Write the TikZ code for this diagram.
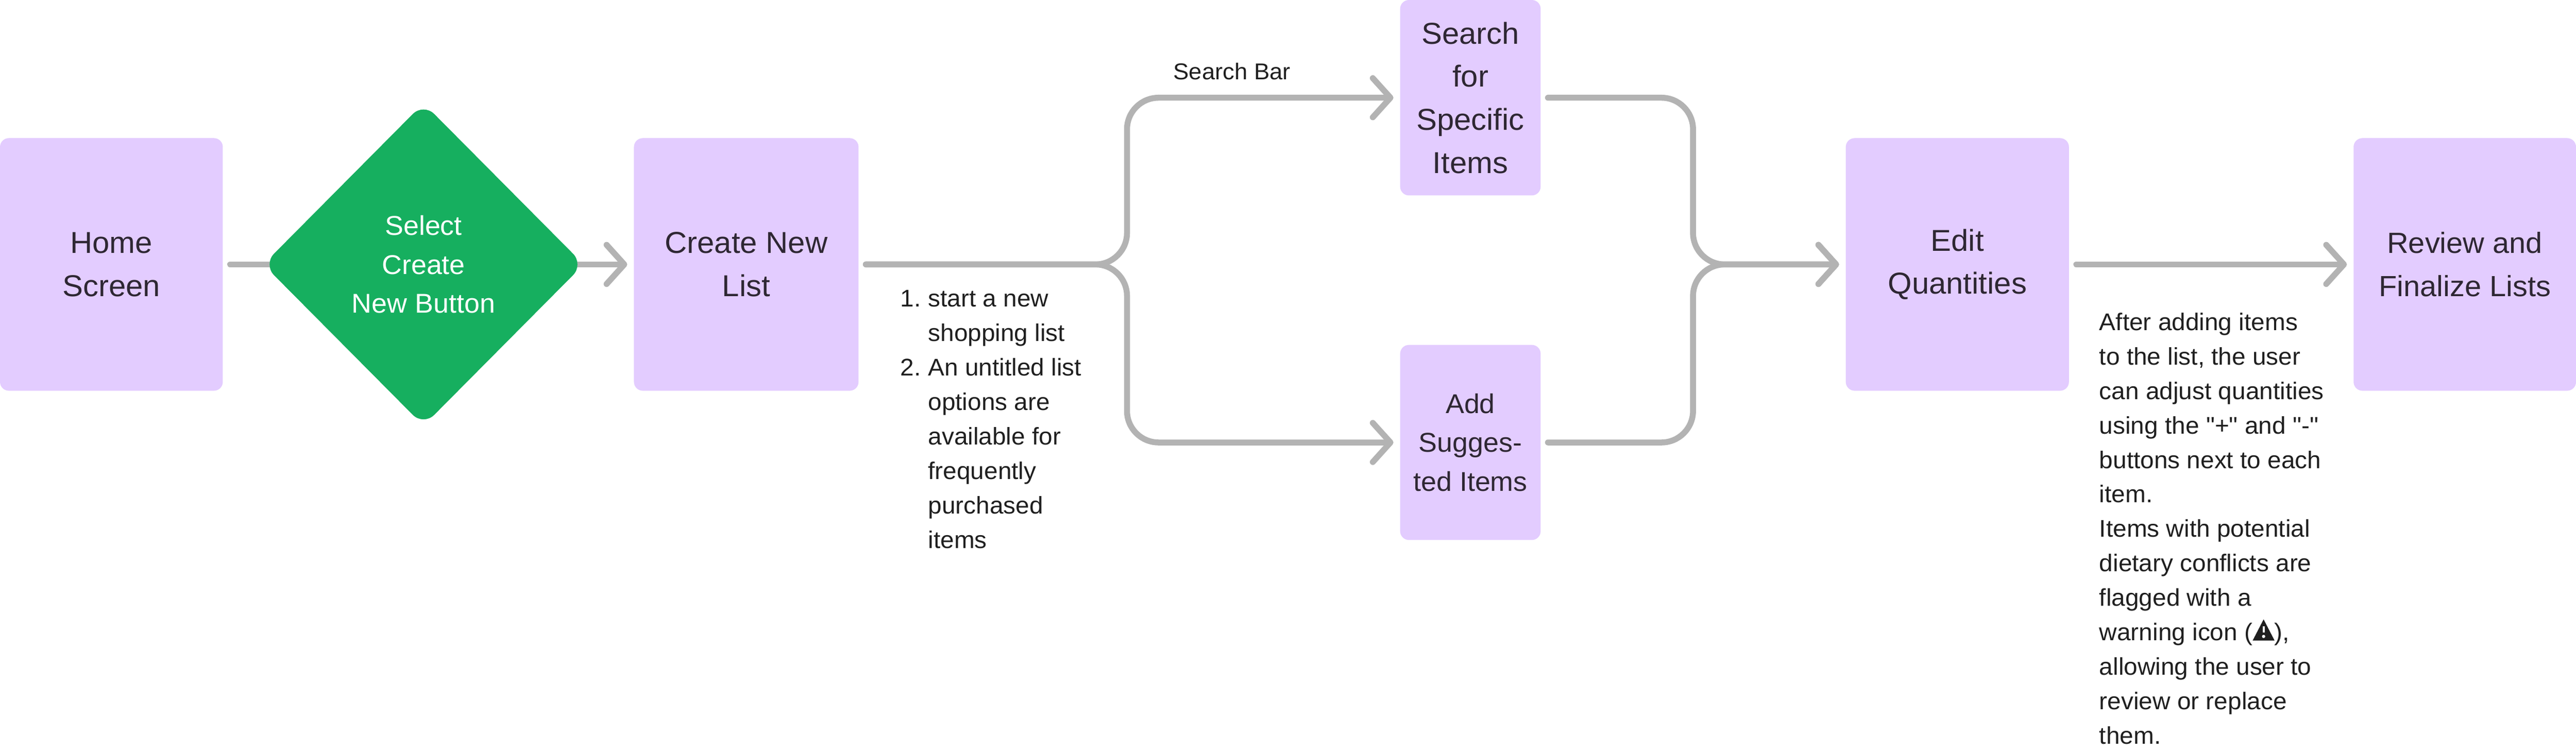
\documentclass[tikz,border=0pt]{standalone}
\usepackage{fontspec}
\usepackage{xcolor}
\setmainfont[Scale=1.05,FakeStretch=1.02,Ligatures=TeXOff]{Liberation Sans}
\usetikzlibrary{arrows.meta,shapes.geometric,backgrounds}

\definecolor{boxlilac}{HTML}{E3CCFF}
\definecolor{decgreen}{HTML}{16AF5F}
\definecolor{linegray}{HTML}{B3B3B3}
\definecolor{boxink}{HTML}{2E2733}
\definecolor{noteink}{HTML}{1F1F1F}

\newcommand{\listnum}[1]{\makebox[21.9pt][l]{#1}}
\newcommand{\warnicon}{\tikz[baseline=0pt]{
	\fill[noteink] (-0.305,0) -- (0,0.59) -- (0.305,0) -- cycle;
	\fill[white] (-0.03,0.22) rectangle (0.03,0.39);
	\fill[white] (0,0.115) circle (0.045);}}

\tikzset{
	stepbox/.style={draw=none, fill=boxlilac, rounded corners=7pt, inner sep=0pt, text=boxink, align=center, font=\fontsize{22.8}{34.1}\selectfont},
	flowline/.style={draw=linegray, line width=4.7pt, line cap=round, line join=round, rounded corners=25pt, shorten <=5.6pt},
	flowarrow/.style={flowline, shorten >=5.1pt, -{Straight Barb[length=14pt,width=31pt,round]}},
	notetext/.style={inner sep=0pt, text=noteink, align=left, font=\fontsize{18.2}{27.3}\selectfont}
}

\begin{document}
\begin{tikzpicture}
	\useasboundingbox (0,0) rectangle (71.68,20.92);
	% boxes
	\node[stepbox, minimum width=6.2cm, minimum height=7.03cm] (home) at (3.10,13.56) {Home\\Screen};
	\node[stepbox, minimum width=6.25cm, minimum height=7.03cm] (create) at (20.765,13.56) {Create New\\List};
	\node[stepbox, minimum width=3.91cm, minimum height=5.44cm] (search) at (40.915,18.20) {Search\\for\\Specific\\Items};
	\node[stepbox, minimum width=3.91cm, minimum height=5.43cm, font=\fontsize{20.5}{30.8}\selectfont] (suggest) at (40.915,8.605) {Add\\Sugges-\\ted Items};
	\node[stepbox, minimum width=6.21cm, minimum height=7.03cm] (edit) at (54.465,13.56) {Edit\\Quantities};
	\node[stepbox, minimum width=6.19cm, minimum height=7.03cm, font=\fontsize{22}{34.1}\selectfont] (review) at (68.585,13.56) {Review and\\Finalize Lists};
	\node[diamond, fill=decgreen, rounded corners=12pt, inner sep=0pt, minimum width=8.92cm, minimum height=8.98cm, text=white, align=center, font=\fontsize{20.5}{30.8}\selectfont] (select) at (11.785,13.56) {Select\\Create\\New Button};
	% junction points of the two forks
	\coordinate (forkl) at (31.36,13.56);
	\coordinate (forkr) at (47.11,13.56);
	% connectors
	\begin{scope}[on background layer]
		\draw[flowline] (home.east) -- (select.center);
		\draw[draw=linegray, line width=4.7pt, line cap=round, shorten >=5.1pt, -{Straight Barb[length=14pt,width=31pt,round]}] (select.center) -- (create.west);
	\end{scope}
	\draw[flowarrow] (create.east) -- (forkl) |- (search.west);
	\draw[flowarrow] (create.east) -- (forkl) |- (suggest.west);
	\draw[flowarrow] (search.east) -| (forkr) -- (edit.west);
	\draw[flowarrow] (suggest.east) -| (forkr) -- (edit.west);
	\draw[flowarrow] (edit.east) -- (review.west);
	% labels
	\node[notetext, anchor=center, font=\fontsize{17.3}{27.3}\selectfont] (searchbar) at (34.28,18.93) {Search Bar};
	\node[notetext, anchor=north west] (startnote) at (25.05,12.85) {\listnum{1.}start a new\\\listnum{}shopping list\\\listnum{2.}An untitled list\\\listnum{}options are\\\listnum{}available for\\\listnum{}frequently\\\listnum{}purchased\\\listnum{}items};
	\node[notetext, anchor=north west] (qtynote) at (58.41,12.22) {After adding items\\to the list, the user\\can adjust quantities\\using the "+" and "-"\\buttons next to each\\item.\\Items with potential\\dietary conflicts are\\flagged with a\\warning icon (\warnicon),\\allowing the user to\\review or replace\\them.};
\end{tikzpicture}
\end{document}
